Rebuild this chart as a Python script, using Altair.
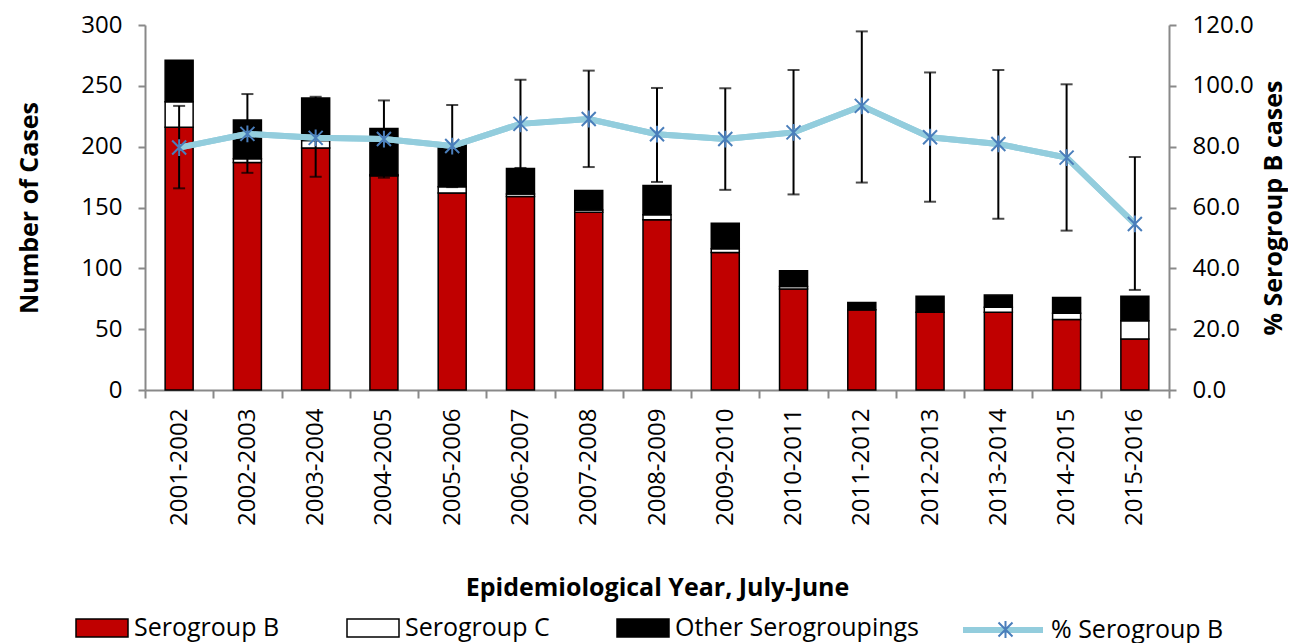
import altair as alt
import pandas as pd

years = ["2001-2002", "2002-2003", "2003-2004", "2004-2005", "2005-2006",
         "2006-2007", "2007-2008", "2008-2009", "2009-2010", "2010-2011",
         "2011-2012", "2012-2013", "2013-2014", "2014-2015", "2015-2016"]
sero_b = [216, 187, 199, 176, 162, 159, 146, 140, 113, 83, 66, 64, 64, 58, 42]
sero_c = [21, 3, 6, 1, 5, 2, 2, 4, 3, 2, 0, 0, 4, 5, 15]
other = [34, 32, 35, 38, 35, 21, 16, 24, 21, 13, 6, 13, 10, 13, 20]
pct_b = [79.7, 84.2, 82.9, 82.5, 80.2, 87.5, 89.1, 84.1, 82.5, 84.7, 93.4, 83.1, 80.9, 76.4, 54.6]
ci_low = [66.3, 71.4, 70.1, 69.8, 66.7, 73.0, 73.3, 68.4, 65.8, 64.3, 68.2, 61.9, 56.3, 52.4, 32.9]
ci_high = [93.4, 97.3, 96.4, 95.2, 93.7, 102.0, 105.0, 99.3, 99.2, 105.2, 117.9, 104.4, 105.2, 100.5, 76.6]

groups = ["Serogroup B", "Serogroup C", "Other Serogroupings"]
group_colors = ["#C00000", "#FFFFFF", "#000000"]
series_name = "% Serogroup B"

FONT = "Open Sans"
GRAY = "#898989"

rows = []
for i, y in enumerate(years):
    for k, (g, vals) in enumerate(zip(groups, [sero_b, sero_c, other])):
        rows.append({"year": y, "group": g, "cases": vals[i], "order": k})
bars_df = pd.DataFrame(rows)

pct_df = pd.DataFrame({"year": years, "pct": pct_b, "lo": ci_low, "hi": ci_high,
                       "series": [series_name] * len(years),
                       "marker": [series_name] * len(years)})

x_axis = alt.Axis(labelAngle=270, labelFontSize=24, labelFont=FONT, labelColor="black",
                  titleFontSize=25, titleFont=FONT, titleFontWeight="bold", titleColor="black",
                  titlePadding=50, tickBand="extent", tickSize=8, tickWidth=2,
                  tickColor=GRAY, domainColor=GRAY, domainWidth=2, labelPadding=10)
x_enc = alt.X("year:N", sort=years, title="Epidemiological Year, July-June",
              scale=alt.Scale(paddingInner=0, paddingOuter=0), axis=x_axis)

rect_path = "M-1,-0.35H1V0.35H-1Z"
asterisk = "M-1,-1L1,1M-1,1L1,-1M0,-1.2L0,1.2"
pct_scale = alt.Scale(domain=[0, 120], nice=False)

bars = alt.Chart(bars_df).mark_bar(size=28, stroke="black", strokeWidth=1.5).encode(
    x=x_enc,
    y=alt.Y("cases:Q", stack="zero", title="Number of Cases",
            scale=alt.Scale(domain=[0, 300], nice=False),
            axis=alt.Axis(orient="left", values=[0, 50, 100, 150, 200, 250, 300], grid=False,
                          labelFontSize=24, labelFont=FONT, labelColor="black", labelPadding=16,
                          titleFontSize=25, titleFont=FONT, titleFontWeight="bold", titleColor="black",
                          titlePadding=38, tickSize=7, tickWidth=2, tickColor=GRAY,
                          domainColor=GRAY, domainWidth=2)),
    color=alt.Color("group:N", scale=alt.Scale(domain=groups, range=group_colors),
                    legend=alt.Legend(orient="none", legendX=-70, legendY=576, direction="horizontal",
                                      title=None, symbolType=rect_path, symbolSize=2704,
                                      symbolStrokeColor="black", symbolStrokeWidth=1.5,
                                      labelFontSize=25, labelFont=FONT, labelColor="black",
                                      labelLimit=400, labelOffset=5, columnPadding=64)),
    order=alt.Order("order:Q"),
)

base = alt.Chart(pct_df)
line = base.mark_line(strokeWidth=6).encode(
    x=x_enc,
    y=alt.Y("pct:Q", title="% Serogroup B cases", scale=pct_scale,
            axis=alt.Axis(orient="right", values=[0, 20, 40, 60, 80, 100, 120], format=".1f",
                          grid=False, labelFontSize=24, labelFont=FONT, labelColor="black",
                          labelPadding=16, titleFontSize=25, titleFont=FONT, titleAngle=270,
                          titleFontWeight="bold", titleColor="black", titlePadding=33,
                          tickSize=7, tickWidth=2, tickColor=GRAY,
                          domainColor=GRAY, domainWidth=2)),
    stroke=alt.Stroke("series:N", scale=alt.Scale(domain=[series_name], range=["#93CDDD"]),
                      legend=alt.Legend(orient="none", legendX=815, legendY=562, title=None,
                                        symbolType="stroke", symbolSize=6400, symbolStrokeWidth=6,
                                        labelFontSize=25, labelFont=FONT, labelColor="black",
                                        labelLimit=400, labelOffset=5)))
err_rule = base.mark_rule(color="black", strokeWidth=2).encode(
    x=x_enc, y=alt.Y("lo:Q", axis=None, scale=pct_scale), y2="hi:Q")
cap_lo = base.mark_tick(color="black", size=12, thickness=2).encode(
    x=x_enc, y=alt.Y("lo:Q", axis=None, scale=pct_scale))
cap_hi = base.mark_tick(color="black", size=12, thickness=2).encode(
    x=x_enc, y=alt.Y("hi:Q", axis=None, scale=pct_scale))
line_top = base.mark_line(strokeWidth=6, color="#93CDDD").encode(
    x=x_enc, y=alt.Y("pct:Q", axis=None, scale=pct_scale))
points = base.mark_point(filled=False, stroke="#4A7EBB", strokeWidth=2, size=196, opacity=1).encode(
    x=x_enc, y=alt.Y("pct:Q", axis=None, scale=pct_scale),
    shape=alt.Shape("marker:N", scale=alt.Scale(domain=[series_name], range=[asterisk]),
                    legend=alt.Legend(orient="none", legendX=848, legendY=592, title=None,
                                      symbolStrokeColor="#4A7EBB", symbolStrokeWidth=2,
                                      symbolSize=196, symbolFillColor="transparent",
                                      labelFontSize=25, labelFont=FONT, labelExpr="''",
                                      labelLimit=400)))

chart = alt.layer(bars, line, err_rule, cap_lo, cap_hi, line_top, points).resolve_scale(
    y="independent", color="independent", stroke="independent", shape="independent"
).properties(
    width=1024, height=365,
    autosize=alt.AutoSizeParams(type="none"),
    padding={"left": 137, "top": 17, "right": 119, "bottom": 254},
).configure(font=FONT).configure_view(stroke=None)

chart.save("out.html", embed_options={"renderer": "svg", "actions": False})
